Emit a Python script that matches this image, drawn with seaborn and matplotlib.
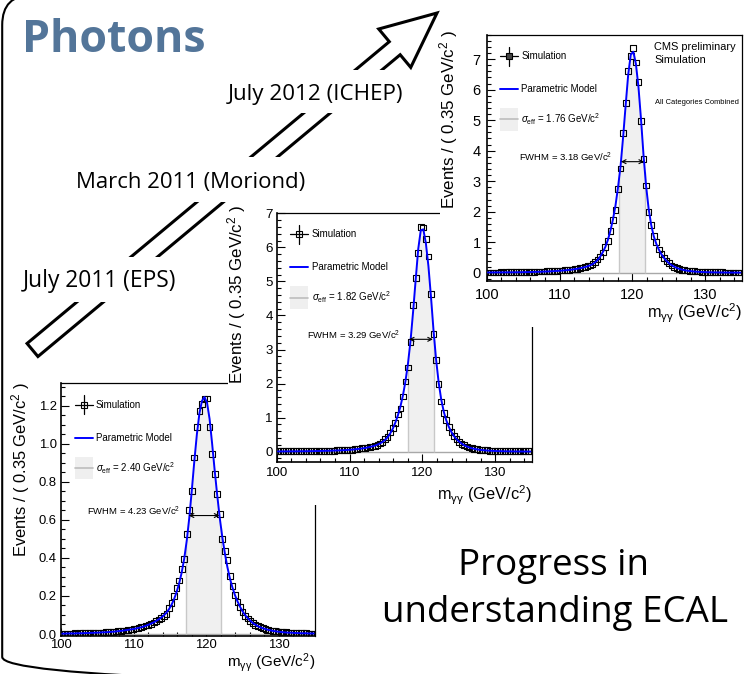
import numpy as np
import pandas as pd
import matplotlib
matplotlib.use("Agg")
import matplotlib.pyplot as plt
import seaborn as sns
from matplotlib.patches import FancyArrow, FancyBboxPatch, Rectangle
from matplotlib.ticker import MultipleLocator, FormatStrFormatter

# ---------------- histogram binning (diphoton mass, GeV) ----------------
mass_min, bin_width, n_bins = 100.0, 0.35, 100
mass_centres = mass_min + bin_width * (np.arange(n_bins) + 0.5)

# ---------------- July 2011 (EPS) ----------------
sim_eps = [
    0.002, 0.003, 0.002, 0.003, 0.003, 0.004, 0.003, 0.004, 0.004, 0.005,
    0.005, 0.006, 0.005, 0.007, 0.007, 0.008, 0.008, 0.009, 0.010, 0.011,
    0.012, 0.013, 0.015, 0.016, 0.018, 0.019, 0.022, 0.024, 0.026, 0.029,
    0.032, 0.036, 0.039, 0.044, 0.048, 0.054, 0.061, 0.068, 0.076, 0.085,
    0.095, 0.104, 0.135, 0.162, 0.198, 0.240, 0.281, 0.340, 0.393, 0.524,
    0.652, 0.751, 0.927, 1.086, 1.170, 1.207, 1.235, 1.238, 1.088, 0.944,
    0.840, 0.734, 0.630, 0.499, 0.435, 0.387, 0.305, 0.252, 0.205, 0.170,
    0.141, 0.116, 0.096, 0.081, 0.068, 0.057, 0.048, 0.041, 0.035, 0.030,
    0.026, 0.022, 0.019, 0.017, 0.015, 0.013, 0.011, 0.010, 0.009, 0.008,
    0.007, 0.006, 0.006, 0.005, 0.005, 0.004, 0.004, 0.003, 0.003, 0.003]
model_eps = [
    0.002, 0.002, 0.003, 0.003, 0.003, 0.003, 0.004, 0.004, 0.004, 0.005,
    0.005, 0.006, 0.006, 0.007, 0.007, 0.008, 0.009, 0.009, 0.010, 0.011,
    0.012, 0.013, 0.015, 0.016, 0.018, 0.020, 0.022, 0.024, 0.026, 0.029,
    0.032, 0.035, 0.039, 0.044, 0.049, 0.055, 0.061, 0.069, 0.077, 0.087,
    0.098, 0.112, 0.130, 0.153, 0.183, 0.220, 0.265, 0.322, 0.395, 0.490,
    0.610, 0.755, 0.910, 1.050, 1.160, 1.225, 1.245, 1.215, 1.130, 1.000,
    0.860, 0.730, 0.610, 0.510, 0.425, 0.352, 0.292, 0.244, 0.204, 0.171,
    0.143, 0.119, 0.099, 0.083, 0.070, 0.058, 0.049, 0.041, 0.035, 0.030,
    0.026, 0.022, 0.019, 0.016, 0.014, 0.012, 0.011, 0.009, 0.008, 0.007,
    0.007, 0.006, 0.005, 0.005, 0.004, 0.004, 0.004, 0.003, 0.003, 0.003]

# ---------------- March 2011 (Moriond) ----------------
sim_moriond = [
    0.01, 0.01, 0.01, 0.01, 0.02, 0.01, 0.01, 0.02, 0.01, 0.02,
    0.01, 0.02, 0.02, 0.02, 0.02, 0.02, 0.02, 0.03, 0.03, 0.03,
    0.03, 0.03, 0.03, 0.04, 0.04, 0.04, 0.05, 0.05, 0.06, 0.06,
    0.07, 0.08, 0.09, 0.10, 0.11, 0.12, 0.13, 0.15, 0.17, 0.20,
    0.24, 0.29, 0.37, 0.44, 0.56, 0.69, 0.84, 1.09, 1.27, 1.62,
    2.06, 2.47, 3.23, 4.31, 5.11, 5.83, 6.60, 6.58, 6.24, 5.73,
    4.62, 3.46, 2.70, 1.99, 1.47, 1.13, 0.92, 0.73, 0.57, 0.46,
    0.37, 0.29, 0.23, 0.19, 0.15, 0.12, 0.10, 0.08, 0.07, 0.06,
    0.05, 0.04, 0.04, 0.03, 0.03, 0.03, 0.02, 0.02, 0.02, 0.02,
    0.02, 0.01, 0.02, 0.01, 0.01, 0.01, 0.01, 0.01, 0.01, 0.01]
model_moriond = [
    0.008, 0.008, 0.009, 0.009, 0.010, 0.010, 0.011, 0.011, 0.012, 0.013,
    0.013, 0.014, 0.015, 0.016, 0.017, 0.019, 0.020, 0.022, 0.023, 0.025,
    0.027, 0.029, 0.032, 0.035, 0.038, 0.041, 0.045, 0.050, 0.055, 0.061,
    0.068, 0.076, 0.085, 0.095, 0.107, 0.121, 0.137, 0.156, 0.179, 0.207,
    0.242, 0.286, 0.345, 0.425, 0.535, 0.670, 0.850, 1.060, 1.320, 1.650,
    2.070, 2.600, 3.270, 4.120, 5.050, 5.950, 6.500, 6.530, 6.120, 5.450,
    4.550, 3.560, 2.710, 2.040, 1.540, 1.180, 0.920, 0.730, 0.580, 0.460,
    0.370, 0.300, 0.240, 0.190, 0.155, 0.125, 0.100, 0.083, 0.069, 0.057,
    0.048, 0.040, 0.034, 0.029, 0.025, 0.021, 0.018, 0.016, 0.014, 0.012,
    0.011, 0.010, 0.009, 0.008, 0.007, 0.007, 0.006, 0.006, 0.005, 0.005]

# ---------------- July 2012 (ICHEP) ----------------
sim_ichep = [
    0.01, 0.01, 0.01, 0.01, 0.01, 0.02, 0.01, 0.02, 0.02, 0.02,
    0.02, 0.02, 0.02, 0.03, 0.02, 0.03, 0.03, 0.03, 0.03, 0.04,
    0.04, 0.04, 0.04, 0.05, 0.05, 0.05, 0.06, 0.06, 0.07, 0.07,
    0.08, 0.09, 0.10, 0.11, 0.12, 0.13, 0.15, 0.17, 0.19, 0.21,
    0.24, 0.29, 0.35, 0.43, 0.53, 0.66, 0.84, 1.03, 1.36, 1.72,
    2.06, 2.75, 3.42, 4.57, 5.57, 6.62, 7.10, 7.36, 6.89, 6.26,
    4.98, 3.72, 2.86, 2.00, 1.56, 1.21, 1.00, 0.76, 0.61, 0.48,
    0.39, 0.31, 0.24, 0.19, 0.15, 0.12, 0.10, 0.08, 0.07, 0.06,
    0.05, 0.05, 0.04, 0.04, 0.03, 0.03, 0.03, 0.03, 0.02, 0.02,
    0.02, 0.02, 0.02, 0.01, 0.01, 0.01, 0.01, 0.01, 0.01, 0.01]
model_ichep = [
    0.010, 0.010, 0.011, 0.011, 0.012, 0.012, 0.013, 0.013, 0.014, 0.015,
    0.015, 0.016, 0.017, 0.018, 0.020, 0.021, 0.023, 0.025, 0.027, 0.030,
    0.032, 0.035, 0.038, 0.041, 0.045, 0.049, 0.054, 0.059, 0.065, 0.071,
    0.078, 0.086, 0.095, 0.105, 0.117, 0.130, 0.146, 0.165, 0.186, 0.211,
    0.241, 0.280, 0.340, 0.420, 0.530, 0.670, 0.840, 1.070, 1.370, 1.740,
    2.200, 2.800, 3.500, 4.450, 5.500, 6.500, 7.150, 7.240, 6.850, 6.100,
    5.050, 3.850, 2.850, 2.100, 1.570, 1.200, 0.950, 0.760, 0.610, 0.490,
    0.390, 0.310, 0.250, 0.200, 0.160, 0.130, 0.105, 0.085, 0.070, 0.058,
    0.048, 0.040, 0.034, 0.029, 0.025, 0.021, 0.018, 0.016, 0.014, 0.012,
    0.011, 0.010, 0.009, 0.008, 0.007, 0.007, 0.006, 0.006, 0.005, 0.005]

# ---------------- per-plot summary numbers (EPS, Moriond, ICHEP) ----------------
sim_sets = [sim_eps, sim_moriond, sim_ichep]
model_sets = [model_eps, model_moriond, model_ichep]
sigma_eff = [2.40, 1.82, 1.76]          # GeV
band_start = [117.26, 118.00, 118.20]   # lower edge of the sigma_eff window
fwhm = [4.23, 3.29, 3.18]               # GeV
fwhm_start = [117.60, 118.15, 118.42]
peak_height = [1.245, 6.60, 7.28]
y_major = [0.2, 1.0, 1.0]
y_minor = [0.05, 0.2, 0.2]
y_range = [(-0.0105, 1.3174), (-0.294, 7.018), (-0.27, 7.80)]
y_fmt = ["%.1f", "%d", "%d"]

timeline_labels = ["July 2011 (EPS)", "March 2011 (Moriond)", "July 2012 (ICHEP)"]
conclusion_lines = ["Progress in", "understanding ECAL"]

# ---------------- style ----------------
sns.set_theme(style="ticks", rc={
    "axes.edgecolor": "black", "text.color": "black",
    "axes.labelcolor": "black", "xtick.color": "black", "ytick.color": "black",
})
plt.rcParams["font.family"] = ["Liberation Sans", "DejaVu Sans"]
plt.rcParams["mathtext.fontset"] = "custom"
plt.rcParams["mathtext.rm"] = "Liberation Sans"
plt.rcParams["mathtext.it"] = "Liberation Sans:italic"
plt.rcParams["mathtext.bf"] = "Liberation Sans:bold"
plt.rcParams["mathtext.sf"] = "Liberation Sans"

W, H = 745, 674
fig = plt.figure(figsize=(W / 100, H / 100), dpi=100)
fig.patch.set_facecolor("white")


def fig_rect(l, t, r, b):
    return [l / W, 1 - b / H, (r - l) / W, (b - t) / H]


# ---------------- slide background: timeline arrow and dates ----------------
slide = fig.add_axes([0, 0, 1, 1], zorder=0)
slide.set_xlim(0, W)
slide.set_ylim(H, 0)
slide.axis("off")

slide.add_patch(FancyArrow(32.5, 350, 404.5, -337, width=17, head_width=50,
                           head_length=55, length_includes_head=True,
                           fc="white", ec="black", lw=2.2, joinstyle="miter",
                           zorder=1))

label_boxes = [(18, 257, 182, 302), (70, 157, 312, 202), (220, 70, 410, 113)]
label_pos = [(100, 286.7), (191, 188.3), (315, 100)]
label_fs = [16.4, 15.9, 16.1]
for (l, t, r, b), (cx, base), fs, txt in zip(label_boxes, label_pos, label_fs, timeline_labels):
    slide.add_patch(Rectangle((l, t), r - l, b - t, fc="white", ec="none", zorder=2))
    slide.text(cx, base, txt, ha="center", va="baseline", fontsize=fs,
               family="Open Sans", zorder=3)

# ---------------- the three mass plots ----------------
axes_px = [(61, 383.3, 315, 636), (276.7, 212.7, 531.7, 461.7), (486.7, 34.7, 741.7, 281)]
canvas_px = [(5, 360, 330, 674), (228, 203, 545, 505), (440, 24, 745, 327)]
tick_fs = [9.4, 9.6, 10.5]
axis_label_fs = [11.9, 12.2, 12.2]
xlabel_fs = [11.0, 11.8, 11.8]
ylabel_xy = [(-0.114, 1.006), (-0.1125, 1.031), (-0.105, 1.019)]
xlabel_y = [-0.058, -0.09, -0.085]
ytick_pad = [3.1, 2.9, 4.3]
xtick_pad = [1.8, 3.8, 4.9]
legend_marker_fc = ["none", "none", "#444444"]

for k in range(3):
    l, t, r, b = axes_px[k]
    wpx, hpx = r - l, b - t
    cl, ct, cr, cb = canvas_px[k]
    fig.add_artist(Rectangle((cl / W, 1 - cb / H), (cr - cl) / W, (cb - ct) / H,
                             transform=fig.transFigure, fc="white", ec="none",
                             zorder=2 * k + 1))
    ax = fig.add_axes(fig_rect(l, t, r, b), zorder=2 * k + 2)
    ax.set_facecolor("white")

    df = pd.DataFrame({"mass": mass_centres, "events": sim_sets[k],
                       "model": model_sets[k]})

    # sigma_eff window under the model curve
    lo = band_start[k]
    hi = lo + 2 * sigma_eff[k]
    inside = df["mass"].between(lo, hi)
    xb = np.concatenate([[lo], df["mass"][inside].to_numpy(), [hi]])
    yb = np.interp(xb, df["mass"], df["model"])
    ax.fill_between(xb, 0, yb, color="#f0f0f0", lw=0, zorder=1)
    ax.vlines([lo, hi], 0, [yb[0], yb[-1]], color="#c8c8c8", lw=1.0, zorder=1.2)
    ax.axhline(0, color="#a8a8a8", lw=1.0, zorder=1.1)

    sns.scatterplot(data=df, x="mass", y="events", marker="s", s=17,
                    facecolor="none", edgecolor="black", linewidth=0.8,
                    ax=ax, zorder=2, legend=False)
    sns.lineplot(data=df, x="mass", y="model", color="#0000ff", lw=1.4,
                 ax=ax, zorder=3, estimator=None, sort=False, legend=False)

    ax.set_xlim(100, 135)
    ax.set_ylim(*y_range[k])
    ax.xaxis.set_major_locator(MultipleLocator(10))
    ax.xaxis.set_minor_locator(MultipleLocator(2))
    ax.yaxis.set_major_locator(MultipleLocator(y_major[k]))
    ax.yaxis.set_minor_locator(MultipleLocator(y_minor[k]))
    ax.yaxis.set_major_formatter(FormatStrFormatter(y_fmt[k]))
    ax.tick_params(which="both", direction="in", top=False, right=False,
                   labelsize=tick_fs[k], width=0.8)
    ax.tick_params(which="major", length=5.5)
    ax.tick_params(which="minor", length=2.8)
    ax.tick_params(axis="y", pad=ytick_pad[k])
    ax.tick_params(axis="x", pad=xtick_pad[k])
    for side in ["left", "bottom"]:
        ax.spines[side].set_linewidth(1.2)
    for side in ["top", "right"]:
        ax.spines[side].set_linewidth(0.9)

    ax.set_xlabel(r"m$_{\mathrm{γγ}}$ (GeV/c$^{2}$)", loc="right", fontsize=xlabel_fs[k])
    ax.set_ylabel(r"Events / ( 0.35 GeV/c$^{2}$ )", loc="top", fontsize=axis_label_fs[k])
    ax.xaxis.set_label_coords(1.0, xlabel_y[k])
    ax.yaxis.set_label_coords(*ylabel_xy[k])

    def at(dx, dy):
        return dx / wpx, 1 - dy / hpx

    tr = ax.transAxes
    # legend: simulation
    ax.plot(*zip(at(13.5, 21.5), at(31.5, 21.5)), color="black", lw=0.9, transform=tr, clip_on=False, zorder=5)
    ax.plot(*zip(at(22.5, 12.0), at(22.5, 31.0)), color="black", lw=0.9, transform=tr, clip_on=False, zorder=5)
    ax.plot(*at(22.5, 21.5), marker="s", ms=4.4, mfc=legend_marker_fc[k], mec="black",
            mew=0.8, transform=tr, zorder=6)
    ax.text(*at(34.8, 21.5), "Simulation", fontsize=7, va="center", transform=tr)
    # legend: model
    ax.plot(*zip(at(13.5, 54.3), at(31.5, 54.3)), color="#0000ff", lw=1.4, transform=tr, zorder=5)
    ax.text(*at(34.8, 54.3), "Parametric Model", fontsize=7, va="center", transform=tr)
    # legend: sigma_eff
    bx, by = at(13.5, 96.0)
    ax.add_patch(Rectangle((bx, by), 18 / wpx, 22.5 / hpx, transform=tr,
                           fc="#efefef", ec="none", zorder=5))
    ax.plot(*zip(at(13.5, 84.8), at(31.5, 84.8)), color="#bdbdbd", lw=1.2, transform=tr, zorder=5)
    ax.text(*at(34.8, 84.8), r"$\sigma_{\mathrm{eff}}$ = %.2f GeV/c$^{2}$" % sigma_eff[k],
            fontsize=7, va="center", transform=tr)

    # FWHM marker
    half = peak_height[k] / 2
    ax.annotate("", xy=(fwhm_start[k] + fwhm[k], half), xytext=(fwhm_start[k], half),
                arrowprops=dict(arrowstyle="<->", lw=0.8, color="black",
                                shrinkA=0, shrinkB=0, mutation_scale=7),
                zorder=6)
    ax.annotate("FWHM = %.2f GeV/c$^{2}$" % fwhm[k], xy=(fwhm_start[k], half),
                xytext=(-6, 3), textcoords="offset points", ha="right",
                va="center", fontsize=6.8, zorder=6)

    if k == 2:
        ax.text(*at(167.3, 11.8), "CMS preliminary", fontsize=7.9, va="center", transform=tr)
        ax.text(*at(167.3, 25.5), "Simulation", fontsize=7.9, va="center", transform=tr)
        ax.text(*at(168.3, 67.3), "All Categories Combined", fontsize=5.4, va="center", transform=tr)

# ---------------- slide foreground: frame, title, conclusion ----------------
top = fig.add_axes([0, 0, 1, 1], zorder=10)
top.set_xlim(0, W)
top.set_ylim(H, 0)
top.axis("off")
top.add_patch(FancyBboxPatch((2.2, -5), 900, 692, boxstyle="round,pad=0,rounding_size=30",
                             fc="none", ec="black", lw=1.5))
top.text(21.7, 52.3, "Photons", fontsize=32.2, fontweight="bold", family="Open Sans",
         color="#537599", ha="left", va="baseline")
top.text(554, 575, conclusion_lines[0], fontsize=26.5, family="Open Sans",
         ha="center", va="baseline")
top.text(555, 621.7, conclusion_lines[1], fontsize=26.5, family="Open Sans",
         ha="center", va="baseline")

fig.savefig("out.png", dpi=100, facecolor="white")
